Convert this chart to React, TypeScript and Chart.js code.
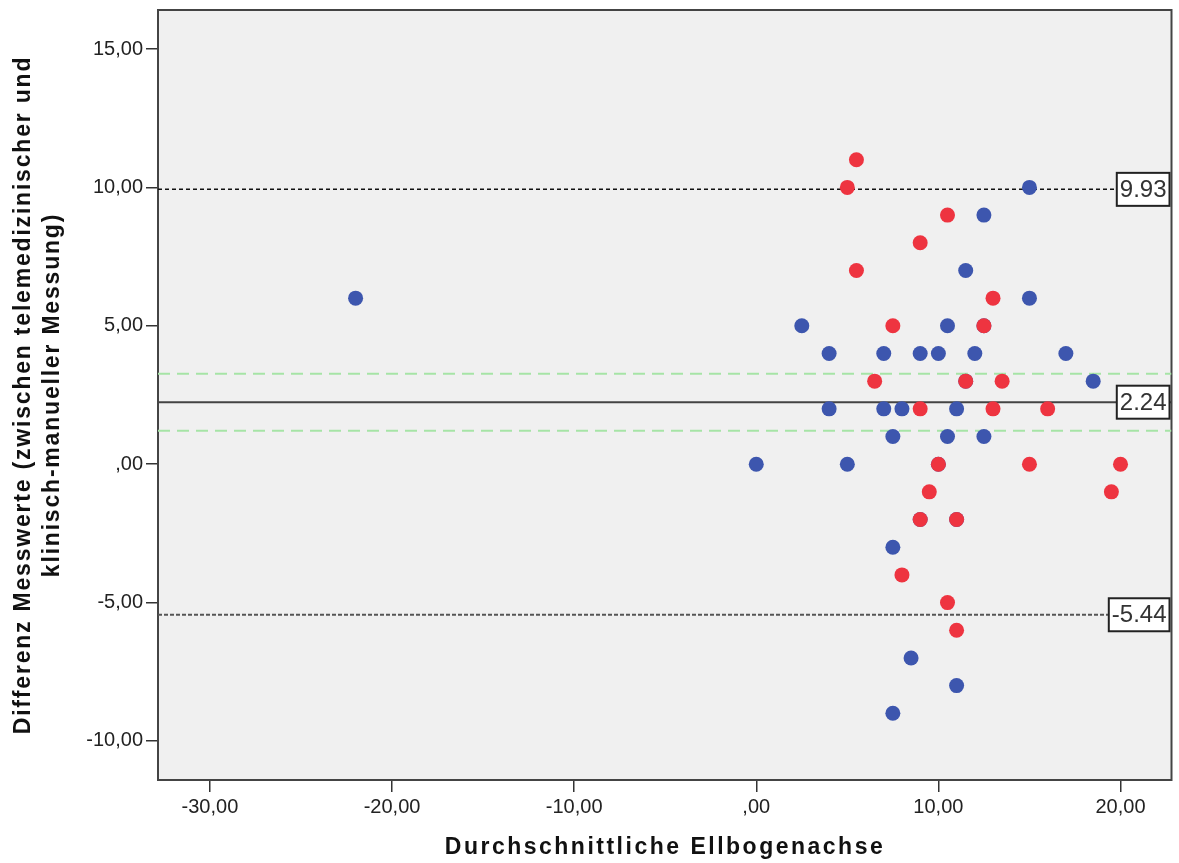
import React, { useEffect, useRef } from "react";
import { Chart, registerables } from "chart.js";

Chart.register(...registerables);

// ---- data ----
const blueX = [-22, 0, 2.5, 4, 4, 5, 7, 7, 7.5, 7.5, 7.5, 8, 8.5, 9, 10, 10.5, 10.5, 11, 11, 11.5, 12, 12.5, 12.5, 15, 15, 17, 18.5, 12.5, 11.5, 10, 9, 11];
const blueY = [6, 0, 5, 4, 2, 0, 4, 2, 1, -3, -9, 2, -7, 4, 4, 5, 1, 2, -8, 7, 4, 9, 1, 10, 6, 4, 3, 5, 3, 0, -2, -2];
const redX = [5.5, 5, 10.5, 9, 5.5, 13, 7.5, 12.5, 6.5, 11.5, 13.5, 9, 13, 16, 10, 15, 20, 9.5, 19.5, 9, 11, 8, 10.5, 11];
const redY = [11, 10, 9, 8, 7, 6, 5, 5, 3, 3, 3, 2, 2, 2, 0, 0, 0, -1, -1, -2, -2, -4, -5, -6];

const xTicks = [-30, -20, -10, 0, 10, 20];
const yTicks = [-10, -5, 0, 5, 10, 15];
const X_MIN = -32.85;
const X_MAX = 22.8;
const Y_MIN = -11.41;
const Y_MAX = 16.41;

const upperLoA = 9.93;
const meanDiff = 2.24;
const lowerLoA = -5.44;
const ciUpper = 3.27;
const ciLower = 1.21;
const boxLabels = [
  { value: upperLoA, text: "9.93" },
  { value: meanDiff, text: "2.24" },
  { value: lowerLoA, text: "-5.44" },
];

const xTitle = "Durchschnittliche Ellbogenachse";
const yTitle = ["Differenz Messwerte (zwischen telemedizinischer und", "klinisch-manueller Messung)"];

const FONT = '"Liberation Sans", Arial, sans-serif';

const fmt = (v: number) => {
  if (v === 0) return ",00";
  return v.toFixed(2).replace(".", ",");
};

const toPts = (xs: number[], ys: number[]) => xs.map((x, i) => ({ x, y: ys[i] }));
const hLine = (v: number) => [
  { x: X_MIN, y: v },
  { x: X_MAX, y: v },
];

const decorPlugin = {
  id: "decor",
  beforeDraw(chart: any) {
    const { ctx, chartArea: a } = chart;
    ctx.save();
    ctx.fillStyle = "#f0f0f0";
    ctx.fillRect(a.left, a.top, a.right - a.left, a.bottom - a.top);
    ctx.restore();
  },
  beforeDatasetsDraw(chart: any) {
    const { ctx, chartArea: a } = chart;
    ctx.save();
    ctx.strokeStyle = "#444";
    ctx.lineWidth = 2;
    ctx.strokeRect(a.left, a.top, a.right - a.left, a.bottom - a.top);
    ctx.restore();
  },
  afterDatasetsDraw(chart: any) {
    const { ctx, chartArea: a, scales } = chart;
    ctx.save();
    ctx.font = `24px ${FONT}`;
    ctx.textBaseline = "middle";
    ctx.textAlign = "left";
    boxLabels.forEach((b) => {
      const y = scales.y.getPixelForValue(b.value);
      const w = ctx.measureText(b.text).width + 6;
      const h = 33;
      const x = a.right - 2 - w;
      ctx.fillStyle = "#ffffff";
      ctx.fillRect(x, y - h / 2, w, h);
      ctx.strokeStyle = "#222";
      ctx.lineWidth = 2;
      ctx.strokeRect(x, y - h / 2, w, h);
      ctx.fillStyle = "#333";
      ctx.fillText(b.text, x + 3, y + 1);
    });
    ctx.restore();
  },
  afterDraw(chart: any) {
    const { ctx } = chart;
    ctx.save();
    ctx.fillStyle = "#111";
    ctx.font = `bold 23px ${FONT}`;
    (ctx as any).letterSpacing = "2.5px";
    ctx.textAlign = "center";
    ctx.textBaseline = "alphabetic";
    ctx.fillText(xTitle, 665, 854);
    (ctx as any).letterSpacing = "1.8px";
    const baselines = [30, 59];
    yTitle.forEach((line, i) => {
      ctx.save();
      ctx.translate(baselines[i], 395);
      ctx.rotate(-Math.PI / 2);
      ctx.fillText(line, 0, 0);
      ctx.restore();
    });
    ctx.restore();
  },
};

export default function App() {
  const ref = useRef<HTMLCanvasElement | null>(null);
  useEffect(() => {
    if (!ref.current) return;
    const lineDs = (v: number, color: string, width: number, dash: number[]) => ({
      data: hLine(v),
      showLine: true,
      borderColor: color,
      borderWidth: width,
      borderDash: dash,
      pointRadius: 0,
      pointHoverRadius: 0,
      order: 5,
    });
    const chart = new Chart(ref.current, {
      type: "scatter",
      data: {
        datasets: [
          {
            data: toPts(redX, redY),
            backgroundColor: "#ee3440",
            borderWidth: 0,
            pointRadius: 7.5,
            order: 1,
          },
          {
            data: toPts(blueX, blueY),
            backgroundColor: "#3d56ae",
            borderWidth: 0,
            pointRadius: 7.5,
            order: 2,
          },
          lineDs(upperLoA, "#111", 1.5, [4, 3]),
          lineDs(lowerLoA, "#555", 2, [4, 2]),
          lineDs(meanDiff, "#444", 2, []),
          lineDs(ciUpper, "#a6e4a6", 2, [12, 7]),
          lineDs(ciLower, "#a6e4a6", 2, [12, 7]),
        ] as any,
      },
      plugins: [decorPlugin],
      options: {
        animation: false,
        responsive: false,
        devicePixelRatio: 1,
        layout: { padding: { left: 0, right: 7, top: 10, bottom: 0 } },
        plugins: { legend: { display: false }, tooltip: { enabled: false } },
        scales: {
          x: {
            type: "linear",
            min: X_MIN,
            max: X_MAX,
            afterBuildTicks: (s: any) => {
              s.ticks = xTicks.map((v) => ({ value: v }));
            },
            afterFit: (s: any) => {
              s.height = 83;
              s.paddingLeft = 0;
              s.paddingRight = 0;
            },
            ticks: {
              callback: (v: any) => fmt(Number(v)),
              font: { family: FONT, size: 20 },
              color: "#222",
              padding: 3,
              maxRotation: 0,
              autoSkip: false,
            },
            grid: { drawOnChartArea: false, tickLength: 12, color: "#333", lineWidth: 1.5 },
            border: { display: false },
          },
          y: {
            type: "linear",
            min: Y_MIN,
            max: Y_MAX,
            afterBuildTicks: (s: any) => {
              s.ticks = yTicks.map((v) => ({ value: v }));
            },
            afterFit: (s: any) => {
              s.width = 158;
              s.paddingTop = 0;
              s.paddingBottom = 0;
            },
            ticks: {
              callback: (v: any) => fmt(Number(v)),
              font: { family: FONT, size: 20 },
              color: "#222",
              padding: 3,
              autoSkip: false,
            },
            grid: { drawOnChartArea: false, tickLength: 12, color: "#333", lineWidth: 1.5 },
            border: { display: false },
          },
        },
      } as any,
    });
    return () => chart.destroy();
  }, []);
  return (
    <div style={{ position: "absolute", left: 0, top: 0, width: 1179, height: 863, background: "#fff" }}>
      <canvas ref={ref} width={1179} height={863} style={{ width: 1179, height: 863, display: "block" }} />
    </div>
  );
}
